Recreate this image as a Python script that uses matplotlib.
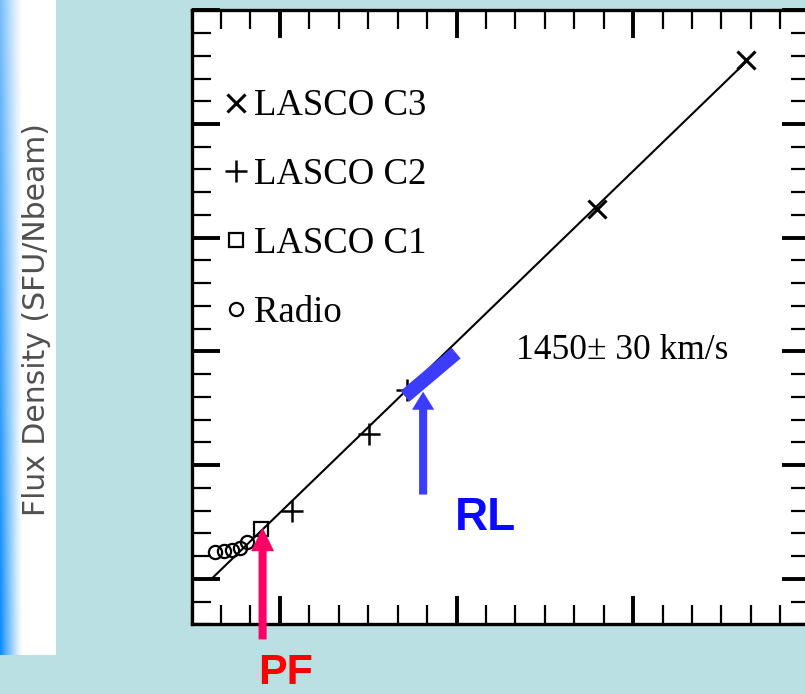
import numpy as np
import matplotlib.pyplot as plt
from matplotlib.ticker import MultipleLocator, NullFormatter

# points, in major-tick units
radio_x = [-0.367, -0.316, -0.271, -0.225, -0.186]
radio_y = [0.240, 0.249, 0.257, 0.275, 0.328]
c1_x = [-0.106]
c1_y = [0.442]
c2_x = [0.069, 0.505, 0.721]
c2_y = [0.600, 1.277, 1.664]
c3_x = [1.798, 2.640]
c3_y = [3.255, 4.563]
fit_x = [-0.391, 2.645]
fit_y = [-0.006, 4.555]
rl_x = [0.708, 0.998]
rl_y = [1.605, 1.985]

labels = ['LASCO C3', 'LASCO C2', 'LASCO C1', 'Radio']
speed_text = '1450\u00b1 30 km/s'

bg = '#bbe0e3'
pink = '#ff0066'
blue = '#3c3cff'

fig = plt.figure(figsize=(8.05, 6.94), dpi=100, facecolor=bg)

# left strip: piece of a colour bar with its label
sax = fig.add_axes([0, 1 - 655 / 694, 56 / 805, 655 / 694])
xx = np.arange(56)[None, :]
yy = np.linspace(0, 1, 655)[:, None]
w = np.clip(1 - xx / 22.0, 0, 1) ** 1.2
r = (120 - 110 * yy) / 255.0
g = (190 - 50 * yy) / 255.0
b = np.ones_like(yy) * 250 / 255.0
img = np.dstack([1 - w * (1 - r), 1 - w * (1 - g), 1 - w * (1 - b)])
sax.imshow(img, aspect='auto', interpolation='bilinear')
sax.axis('off')
fig.text(37 / 805, 1 - 320 / 694, 'Flux Density (SFU/Nbeam)', rotation=90,
         ha='center', va='center', fontsize=21.5, color='#505050',
         family='DejaVu Sans')

ax = fig.add_axes([191.6 / 805, 1 - 624.3 / 694, 618.1 / 805, 614 / 694])
ax.set_facecolor('white')
ax.set_xlim(-0.5, 3.0)
ax.set_ylim(-0.4, 5.0)

ax.plot(fit_x, fit_y, color='black', lw=1.5, zorder=2)
h_r, = ax.plot(radio_x, radio_y, 'o', ms=9.5, mfc='none', mec='black', mew=1.6, zorder=3)
h_c1, = ax.plot(c1_x, c1_y, 's', ms=10, mfc='none', mec='black', mew=1.6, zorder=3)
h_c2, = ax.plot(c2_x, c2_y, '+', ms=16.5, mec='black', mew=1.8, zorder=3)
h_c3, = ax.plot(c3_x, c3_y, 'x', ms=13.5, mec='black', mew=2.2, zorder=3)
ax.plot(rl_x, rl_y, color=blue, lw=10, solid_capstyle='butt', zorder=4)

leg = ax.legend([h_c3, h_c2, h_c1, h_r], labels, loc='upper left',
                bbox_to_anchor=(0.057, 0.872), frameon=False, borderpad=0,
                borderaxespad=0, handlelength=0.5, handletextpad=0.25,
                labelspacing=0.93, prop={'family': 'Liberation Serif', 'size': 26.5})

ax.text(1.337, 1.935, speed_text, family='Liberation Serif', fontsize=25.5,
        ha='left', va='baseline')

ax.annotate('', xy=(-0.098, 0.451), xytext=(-0.098, -0.533),
            arrowprops=dict(arrowstyle='simple,head_length=17,head_width=16.5,tail_width=5.8',
                            mutation_scale=1, color=pink, shrinkA=0, shrinkB=0, lw=0),
            annotation_clip=False, zorder=5)
ax.annotate('', xy=(0.811, 1.646), xytext=(0.811, 0.741),
            arrowprops=dict(arrowstyle='simple,head_length=13,head_width=16,tail_width=5.8',
                            mutation_scale=1, color=blue, shrinkA=0, shrinkB=0, lw=0),
            annotation_clip=False, zorder=5)
ax.text(0.992, 0.433, 'RL', color='#0a0aff', family='Liberation Sans',
        fontweight='bold', fontsize=33, ha='left', va='baseline')
# PF sits at the very bottom edge of the figure
fig.text(258 / 805, 1 / 694, 'PF', color='#ff0000', family='Liberation Sans',
         fontweight='bold', fontsize=31, ha='left', va='bottom')

ax.xaxis.set_major_locator(MultipleLocator(1))
ax.xaxis.set_minor_locator(MultipleLocator(1 / 6))
ax.yaxis.set_major_locator(MultipleLocator(1))
ax.yaxis.set_minor_locator(MultipleLocator(0.2))
ax.xaxis.set_major_formatter(NullFormatter())
ax.yaxis.set_major_formatter(NullFormatter())
ax.tick_params(which='both', direction='in', top=True, right=True,
               labelbottom=False, labelleft=False)
ax.tick_params(which='major', length=20, width=2.8)
ax.tick_params(which='minor', length=13.5, width=1.6)
for s in ax.spines.values():
    s.set_linewidth(2.4)

fig.savefig('out.png', dpi=100, facecolor=bg)
